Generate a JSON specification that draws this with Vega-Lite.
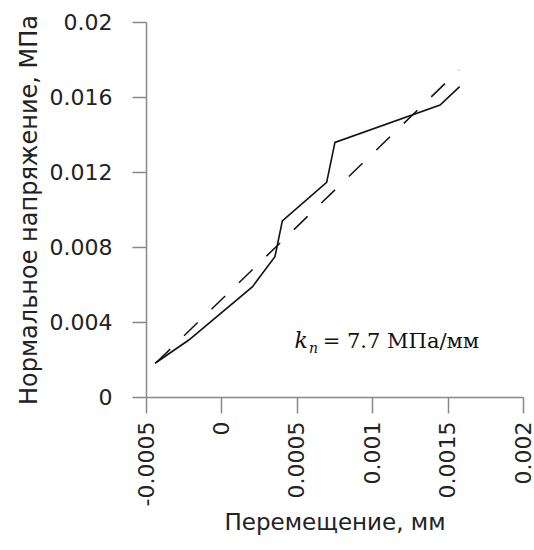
{
  "$schema": "https://vega.github.io/schema/vega-lite/v6.json",
  "autosize": "none",
  "width": 377,
  "height": 375,
  "padding": {"left": 146, "top": 22, "right": 11, "bottom": 153},
  "background": "white",
  "config": {
    "view": {"stroke": null},
    "axis": {"grid": false, "domainColor": "#888888", "tickColor": "#888888", "domainWidth": 1.5, "tickWidth": 1.5, "labelFont": "DejaVu Sans", "titleFont": "DejaVu Sans", "labelColor": "#222222", "titleColor": "#222222", "titleFontWeight": "normal"}
  },
  "layer": [
    {
      "data": {"values": [
        {"x": -0.00044, "y": 0.0018},
        {"x": -0.000216, "y": 0.00304},
        {"x": 0.000205, "y": 0.00587},
        {"x": 0.000355, "y": 0.00748},
        {"x": 0.000404, "y": 0.00939},
        {"x": 0.000698, "y": 0.01145},
        {"x": 0.000753, "y": 0.01358},
        {"x": 0.00145, "y": 0.01557},
        {"x": 0.00158, "y": 0.01655}
      ]},
      "mark": {"type": "line", "color": "#111111", "strokeWidth": 1.6},
      "encoding": {
        "x": {"field": "x", "type": "quantitative", "scale": {"domain": [-0.0005, 0.002], "nice": false, "zero": false},
          "axis": {"values": [-0.0005, 0, 0.0005, 0.001, 0.0015, 0.002], "format": "~g", "labelExpr": "replace(datum.label, '−', '-')", "labelAngle": -90, "labelAlign": "right", "labelBaseline": "middle", "labelFontSize": 22, "tickSize": 16, "labelPadding": 8, "title": "Перемещение, мм", "titleFontSize": 23, "titlePadding": 6, "labelFlush": false, "labelOverlap": false}},
        "y": {"field": "y", "type": "quantitative", "scale": {"domain": [0, 0.02], "nice": false},
          "axis": {"values": [0, 0.004, 0.008, 0.012, 0.016, 0.02], "format": "~g", "labelFontSize": 22, "tickSize": 14, "labelPadding": 20, "title": "Нормальное напряжение, МПа", "titleFontSize": 24, "titlePadding": 8, "labelFlush": false, "labelOverlap": false}}
      }
    },
    {
      "data": {"values": [
        {"x": -0.00043, "y": 0.00185},
        {"x": 0.001576, "y": 0.01744}
      ]},
      "mark": {"type": "line", "color": "#111111", "strokeWidth": 1.5, "strokeDash": [19, 19.2]},
      "encoding": {
        "x": {"field": "x", "type": "quantitative"},
        "y": {"field": "y", "type": "quantitative"}
      }
    },
    {
      "data": {"values": [{"x": 0.000485, "y": 0.00261, "t": "k"}]},
      "mark": {"type": "text", "font": "DejaVu Serif", "fontStyle": "italic", "fontSize": 22, "align": "left", "baseline": "alphabetic", "color": "#111111"},
      "encoding": {"x": {"field": "x", "type": "quantitative"}, "y": {"field": "y", "type": "quantitative"}, "text": {"field": "t"}}
    },
    {
      "data": {"values": [{"x": 0.000581, "y": 0.00235, "t": "n"}]},
      "mark": {"type": "text", "font": "DejaVu Serif", "fontStyle": "italic", "fontSize": 14, "align": "left", "baseline": "alphabetic", "color": "#111111"},
      "encoding": {"x": {"field": "x", "type": "quantitative"}, "y": {"field": "y", "type": "quantitative"}, "text": {"field": "t"}}
    },
    {
      "data": {"values": [{"x": 0.000672, "y": 0.00261, "t": "= 7.7 МПа/мм"}]},
      "mark": {"type": "text", "font": "DejaVu Serif", "fontSize": 21, "align": "left", "baseline": "alphabetic", "color": "#111111"},
      "encoding": {"x": {"field": "x", "type": "quantitative"}, "y": {"field": "y", "type": "quantitative"}, "text": {"field": "t"}}
    }
  ]
}
